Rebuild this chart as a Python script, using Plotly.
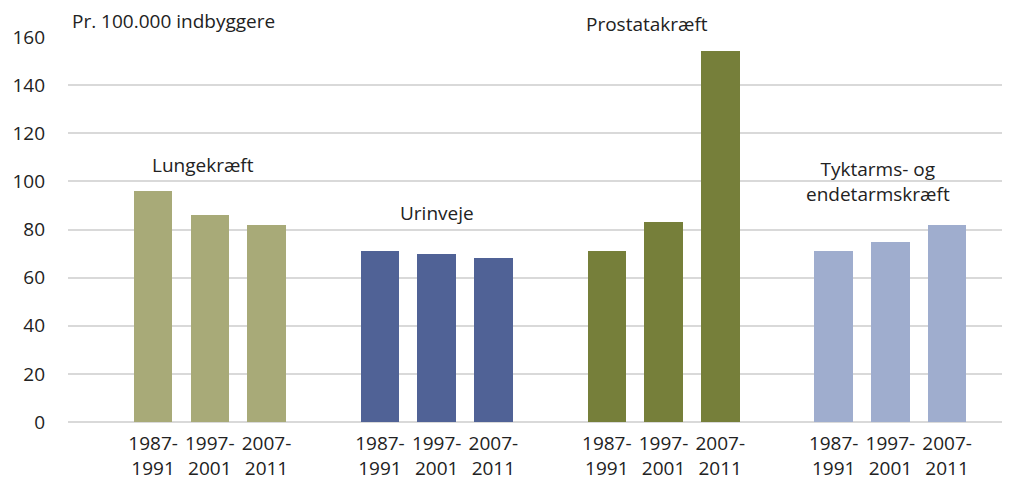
import plotly.graph_objects as go

# --- data ---
groups = ["Lungekræft", "Urinveje", "Prostatakræft", "Tyktarms- og<br>endetarmskræft"]
periods = ["1987-<br>1991", "1997-<br>2001", "2007-<br>2011"]
lunge = [96, 86, 82]
urinveje = [71, 70, 68]
prostata = [71, 83, 154]
tyktarm = [71, 75, 82]
series = [lunge, urinveje, prostata, tyktarm]
colors = ["#A8AA78", "#506296", "#767F3A", "#9FADCE"]

# label placement (y in data units, x offset from middle bar)
label_y = [107, 87, 160, 100]
label_dx = [-0.12, 0.0, -0.3, -0.22]
label_shift = [0, 0, 13, 0]

fig = go.Figure()
tickvals, ticktext = [], []
for g, (name, vals, col) in enumerate(zip(groups, series, colors)):
    xs = [g * 4 + i for i in range(len(periods))]
    tickvals += xs
    ticktext += periods
    fig.add_trace(go.Bar(
        x=xs, y=vals, name=name.replace("<br>", " "),
        marker=dict(color=col, line=dict(width=0)),
        width=0.68, showlegend=False, cliponaxis=False
    ))
    fig.add_annotation(
        x=xs[1] + label_dx[g], y=label_y[g], yshift=label_shift[g], text=name,
        showarrow=False, xanchor="center", yanchor="middle",
        font=dict(size=19, color="#222222"), align="center"
    )

fig.add_annotation(
    xref="paper", yref="paper", x=0.002, y=1.0, yshift=16,
    text="Pr. 100.000 indbyggere", showarrow=False,
    xanchor="left", yanchor="middle",
    font=dict(size=19, color="#222222")
)

# page has an 8px body margin, so margins are reduced by 8
fig.update_layout(
    width=1010, height=486,
    margin=dict(l=60, r=0, t=29, b=72),
    plot_bgcolor="white", paper_bgcolor="white",
    font=dict(family="Open Sans", size=19, color="#222222"),
    bargap=0,
    xaxis=dict(
        tickmode="array", tickvals=tickvals, ticktext=ticktext,
        range=[-1.5, 15.25], showgrid=False, zeroline=False,
        showline=False, ticks="", tickfont=dict(size=19),
        ticklabelstandoff=8,
    ),
    yaxis=dict(
        range=[0, 160], dtick=20, showgrid=True, gridcolor="#D9D9D9",
        gridwidth=2, zeroline=True, zerolinecolor="#D9D9D9", zerolinewidth=2,
        showline=False, ticks="", ticklabelstandoff=22,
        tickfont=dict(size=19),
    ),
)

fig.write_html("out.html")
